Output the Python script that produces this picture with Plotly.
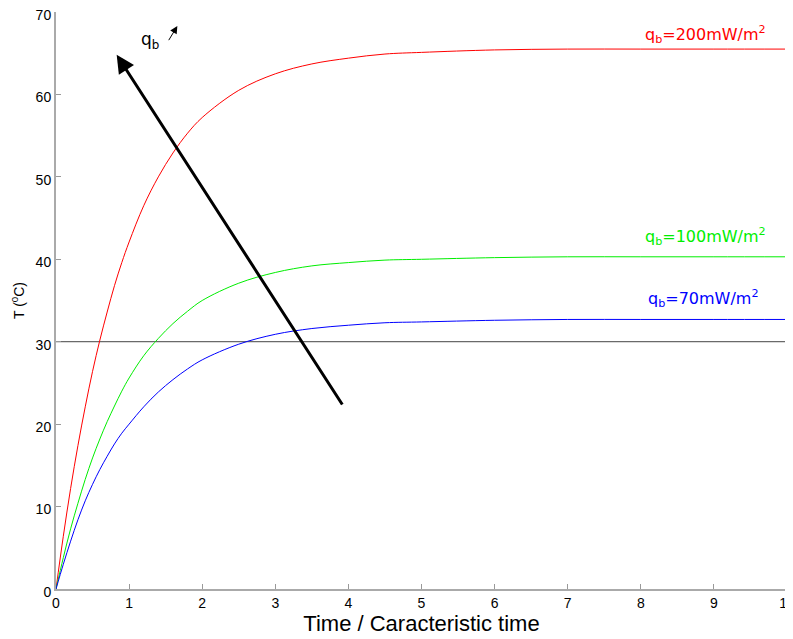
import plotly.graph_objects as go

# Data
time_ratio = [0, 0.1, 0.2, 0.3, 0.4, 0.5, 0.6, 0.7, 0.8, 0.9, 1.0, 1.2, 1.4, 1.6, 1.8, 2.0,
              2.5, 3.0, 3.5, 4.0, 4.5, 5, 6, 7, 8, 9, 10]
temp_200 = [0, 6.4, 12.2, 17.4, 22.1, 26.4, 30.2, 33.6, 36.8, 39.6, 42.1, 46.5, 50.0, 52.9, 55.3, 57.2,
            60.5, 62.5, 63.7, 64.4, 64.9, 65.1, 65.4, 65.5, 65.5, 65.5, 65.5]
temp_100 = [0, 3.8, 7.3, 10.4, 13.3, 15.9, 18.2, 20.3, 22.2, 24.0, 25.6, 28.3, 30.4, 32.2, 33.7, 35.0,
            37.1, 38.4, 39.2, 39.6, 39.9, 40.0, 40.2, 40.3, 40.3, 40.3, 40.3]
temp_70 = [0, 3.0, 5.8, 8.4, 10.7, 12.7, 14.5, 16.1, 17.6, 18.9, 20.0, 22.1, 23.9, 25.4, 26.7, 27.8,
           29.7, 30.9, 31.6, 32.0, 32.3, 32.4, 32.6, 32.7, 32.7, 32.7, 32.7]
reference_temp = 30
x_ticks = [0, 1, 2, 3, 4, 5, 6, 7, 8, 9, 10]
y_ticks = [0, 10, 20, 30, 40, 50, 60, 70]

FONT = "Liberation Sans, Arial, Helvetica, sans-serif"
LABEL_FONT = "DejaVu Sans, sans-serif"
RED, GREEN, BLUE = "#ff0000", "#00ee00", "#0000ff"

fig = go.Figure()
fig.add_trace(go.Scatter(x=[0, 10], y=[reference_temp, reference_temp], mode="lines",
                         line=dict(color="#444444", width=1), showlegend=False))
fig.add_trace(go.Scatter(x=time_ratio, y=temp_200, mode="lines", line=dict(color=RED, width=1),
                         line_shape="spline", showlegend=False))
fig.add_trace(go.Scatter(x=time_ratio, y=temp_100, mode="lines", line=dict(color=GREEN, width=1),
                         line_shape="spline", showlegend=False))
fig.add_trace(go.Scatter(x=time_ratio, y=temp_70, mode="lines", line=dict(color=BLUE, width=1),
                         line_shape="spline", showlegend=False))

annotations = [
    dict(x=9.74, y=67.3, text="q<sub>b</sub>=200mW/m<sup>2</sup>", font=dict(color=RED, size=16, family=LABEL_FONT),
         showarrow=False, xanchor="right", yanchor="middle"),
    dict(x=9.74, y=42.8, text="q<sub>b</sub>=100mW/m<sup>2</sup>", font=dict(color=GREEN, size=16, family=LABEL_FONT),
         showarrow=False, xanchor="right", yanchor="middle"),
    dict(x=9.64, y=35.2, text="q<sub>b</sub>=70mW/m<sup>2</sup>", font=dict(color=BLUE, size=16, family=LABEL_FONT),
         showarrow=False, xanchor="right", yanchor="middle"),
    dict(x=1.28, y=66.6, text="q<sub>b</sub>", font=dict(color="black", size=17, family=LABEL_FONT),
         showarrow=False, xanchor="center", yanchor="middle"),
    # big arrow
    dict(x=0.83, y=64.8, ax=3.93, ay=22.2, axref="x", ayref="y", xref="x", yref="y",
         text="", showarrow=True, arrowhead=2, arrowsize=1.2, arrowwidth=3, arrowcolor="black"),
    # small arrow
    dict(x=1.66, y=68.3, ax=1.53, ay=66.4, axref="x", ayref="y", xref="x", yref="y",
         text="", showarrow=True, arrowhead=2, arrowsize=1.5, arrowwidth=1, arrowcolor="black"),
]

fig.update_layout(
    width=793, height=639,
    margin=dict(l=48, r=14, t=4, b=58, autoexpand=False),
    paper_bgcolor="white", plot_bgcolor="white",
    font=dict(family=FONT, color="black", size=14),
    annotations=annotations,
    xaxis=dict(range=[0, 10], tickvals=x_ticks, ticks="inside", ticklen=5, tickcolor="#999999",
               showgrid=False, zeroline=False, showline=True, linecolor="#aaaaaa", linewidth=2,
               automargin=False, tickfont=dict(size=14), ticklabeloverflow="allow",
               title=dict(text="Time / Caracteristic time", font=dict(size=22), standoff=2)),
    yaxis=dict(range=[0, 70], tickvals=y_ticks, ticks="inside", ticklen=5, tickcolor="#999999",
               showgrid=False, zeroline=False, showline=True, linecolor="#aaaaaa", linewidth=2,
               automargin=False, tickfont=dict(size=14), ticklabeloverflow="allow", ticklabelshift=3,
               title=dict(text="T (<sup>0</sup>C)", font=dict(size=14), standoff=8)),
)

fig.write_html("out.html")
